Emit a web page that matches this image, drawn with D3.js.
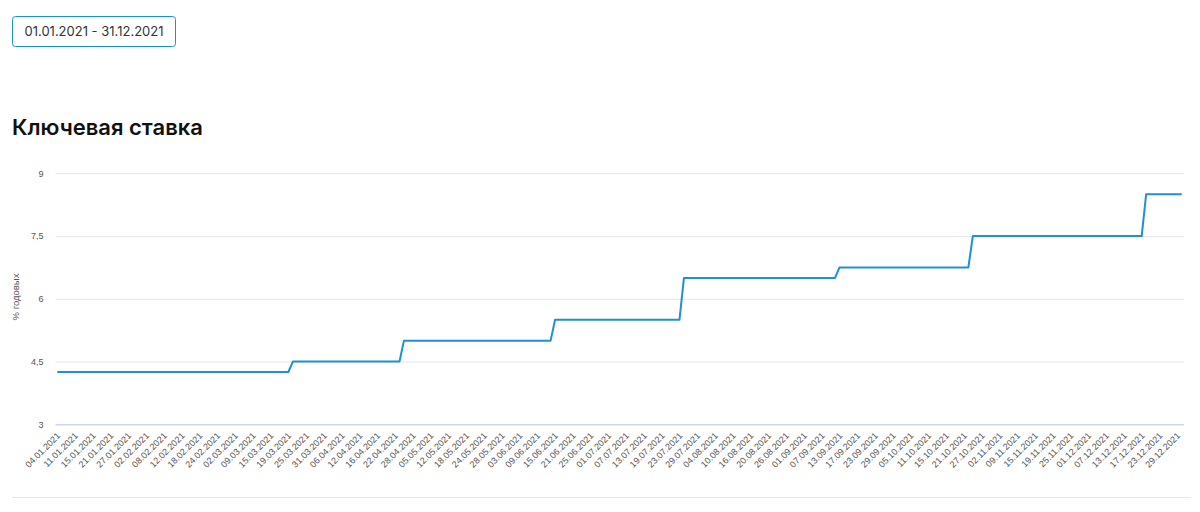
<!DOCTYPE html>
<html>
<head>
<meta charset="utf-8">
<script src="https://cdn.jsdelivr.net/npm/d3@7"></script>
<style>
  html, body { margin: 0; padding: 0; background: #fff; }
  svg { display: block; }
</style>
</head>
<body>
<svg id="chart" width="1200" height="512"></svg>
<script>
// ---- DATA ----
const periodLabel = "01.01.2021 - 31.12.2021";
const chartTitle = "Ключевая ставка";
const yAxisTitle = "% годовых";

const dates = [
  "04.01.2021","05.01.2021","06.01.2021","08.01.2021","11.01.2021","12.01.2021","13.01.2021","14.01.2021","15.01.2021","18.01.2021","19.01.2021","20.01.2021","21.01.2021","22.01.2021","25.01.2021","26.01.2021","27.01.2021","28.01.2021","29.01.2021",
  "01.02.2021","02.02.2021","03.02.2021","04.02.2021","05.02.2021","08.02.2021","09.02.2021","10.02.2021","11.02.2021","12.02.2021","15.02.2021","16.02.2021","17.02.2021","18.02.2021","19.02.2021","22.02.2021","23.02.2021","24.02.2021","25.02.2021","26.02.2021",
  "01.03.2021","02.03.2021","03.03.2021","04.03.2021","05.03.2021","09.03.2021","10.03.2021","11.03.2021","12.03.2021","15.03.2021","16.03.2021","17.03.2021","18.03.2021","19.03.2021","22.03.2021","23.03.2021","24.03.2021","25.03.2021","26.03.2021","29.03.2021","30.03.2021","31.03.2021",
  "01.04.2021","02.04.2021","05.04.2021","06.04.2021","07.04.2021","08.04.2021","09.04.2021","12.04.2021","13.04.2021","14.04.2021","15.04.2021","16.04.2021","19.04.2021","20.04.2021","21.04.2021","22.04.2021","23.04.2021","26.04.2021","27.04.2021","28.04.2021","29.04.2021","30.04.2021",
  "04.05.2021","05.05.2021","06.05.2021","07.05.2021","11.05.2021","12.05.2021","13.05.2021","14.05.2021","17.05.2021","18.05.2021","19.05.2021","20.05.2021","21.05.2021","24.05.2021","25.05.2021","26.05.2021","27.05.2021","28.05.2021","31.05.2021",
  "01.06.2021","02.06.2021","03.06.2021","04.06.2021","07.06.2021","08.06.2021","09.06.2021","10.06.2021","11.06.2021","14.06.2021","15.06.2021","16.06.2021","17.06.2021","18.06.2021","21.06.2021","22.06.2021","23.06.2021","24.06.2021","25.06.2021","28.06.2021","29.06.2021","30.06.2021",
  "01.07.2021","02.07.2021","05.07.2021","06.07.2021","07.07.2021","08.07.2021","09.07.2021","12.07.2021","13.07.2021","14.07.2021","15.07.2021","16.07.2021","19.07.2021","20.07.2021","21.07.2021","22.07.2021","23.07.2021","26.07.2021","27.07.2021","28.07.2021","29.07.2021","30.07.2021",
  "02.08.2021","03.08.2021","04.08.2021","05.08.2021","06.08.2021","09.08.2021","10.08.2021","11.08.2021","12.08.2021","13.08.2021","16.08.2021","17.08.2021","18.08.2021","19.08.2021","20.08.2021","23.08.2021","24.08.2021","25.08.2021","26.08.2021","27.08.2021","30.08.2021","31.08.2021",
  "01.09.2021","02.09.2021","03.09.2021","06.09.2021","07.09.2021","08.09.2021","09.09.2021","10.09.2021","13.09.2021","14.09.2021","15.09.2021","16.09.2021","17.09.2021","20.09.2021","21.09.2021","22.09.2021","23.09.2021","24.09.2021","27.09.2021","28.09.2021","29.09.2021","30.09.2021",
  "01.10.2021","04.10.2021","05.10.2021","06.10.2021","07.10.2021","08.10.2021","11.10.2021","12.10.2021","13.10.2021","14.10.2021","15.10.2021","18.10.2021","19.10.2021","20.10.2021","21.10.2021","22.10.2021","25.10.2021","26.10.2021","27.10.2021","28.10.2021","29.10.2021",
  "01.11.2021","02.11.2021","03.11.2021","05.11.2021","08.11.2021","09.11.2021","10.11.2021","11.11.2021","12.11.2021","15.11.2021","16.11.2021","17.11.2021","18.11.2021","19.11.2021","22.11.2021","23.11.2021","24.11.2021","25.11.2021","26.11.2021","29.11.2021","30.11.2021",
  "01.12.2021","02.12.2021","03.12.2021","06.12.2021","07.12.2021","08.12.2021","09.12.2021","10.12.2021","13.12.2021","14.12.2021","15.12.2021","16.12.2021","17.12.2021","20.12.2021","21.12.2021","22.12.2021","23.12.2021","24.12.2021","27.12.2021","28.12.2021","29.12.2021","30.12.2021"
];

const rates = [
  4.25,4.25,4.25,4.25,4.25,4.25,4.25,4.25,4.25,4.25,4.25,4.25,4.25,4.25,4.25,4.25,4.25,4.25,4.25,
  4.25,4.25,4.25,4.25,4.25,4.25,4.25,4.25,4.25,4.25,4.25,4.25,4.25,4.25,4.25,4.25,4.25,4.25,4.25,4.25,
  4.25,4.25,4.25,4.25,4.25,4.25,4.25,4.25,4.25,4.25,4.25,4.25,4.25,4.25,4.5,4.5,4.5,4.5,4.5,4.5,4.5,4.5,
  4.5,4.5,4.5,4.5,4.5,4.5,4.5,4.5,4.5,4.5,4.5,4.5,4.5,4.5,4.5,4.5,4.5,5,5,5,5,5,
  5,5,5,5,5,5,5,5,5,5,5,5,5,5,5,5,5,5,5,
  5,5,5,5,5,5,5,5,5,5,5.5,5.5,5.5,5.5,5.5,5.5,5.5,5.5,5.5,5.5,5.5,5.5,
  5.5,5.5,5.5,5.5,5.5,5.5,5.5,5.5,5.5,5.5,5.5,5.5,5.5,5.5,5.5,5.5,5.5,6.5,6.5,6.5,6.5,6.5,
  6.5,6.5,6.5,6.5,6.5,6.5,6.5,6.5,6.5,6.5,6.5,6.5,6.5,6.5,6.5,6.5,6.5,6.5,6.5,6.5,6.5,6.5,
  6.5,6.5,6.5,6.5,6.5,6.5,6.5,6.5,6.75,6.75,6.75,6.75,6.75,6.75,6.75,6.75,6.75,6.75,6.75,6.75,6.75,6.75,
  6.75,6.75,6.75,6.75,6.75,6.75,6.75,6.75,6.75,6.75,6.75,6.75,6.75,6.75,6.75,6.75,7.5,7.5,7.5,7.5,7.5,
  7.5,7.5,7.5,7.5,7.5,7.5,7.5,7.5,7.5,7.5,7.5,7.5,7.5,7.5,7.5,7.5,7.5,7.5,7.5,7.5,7.5,
  7.5,7.5,7.5,7.5,7.5,7.5,7.5,7.5,7.5,7.5,7.5,7.5,7.5,8.5,8.5,8.5,8.5,8.5,8.5,8.5,8.5,8.5
];

const xTickLabels = [
  "04.01.2021","11.01.2021","15.01.2021","21.01.2021","27.01.2021","02.02.2021","08.02.2021","12.02.2021","18.02.2021","24.02.2021",
  "02.03.2021","09.03.2021","15.03.2021","19.03.2021","25.03.2021","31.03.2021","06.04.2021","12.04.2021","16.04.2021","22.04.2021",
  "28.04.2021","05.05.2021","12.05.2021","18.05.2021","24.05.2021","28.05.2021","03.06.2021","09.06.2021","15.06.2021","21.06.2021",
  "25.06.2021","01.07.2021","07.07.2021","13.07.2021","19.07.2021","23.07.2021","29.07.2021","04.08.2021","10.08.2021","16.08.2021",
  "20.08.2021","26.08.2021","01.09.2021","07.09.2021","13.09.2021","17.09.2021","23.09.2021","29.09.2021","05.10.2021","11.10.2021",
  "15.10.2021","21.10.2021","27.10.2021","02.11.2021","09.11.2021","15.11.2021","19.11.2021","25.11.2021","01.12.2021","07.12.2021",
  "13.12.2021","17.12.2021","23.12.2021","29.12.2021"
];

const yTicks = [3, 4.5, 6, 7.5, 9];
const yTickLabels = ["3", "4,5", "6", "7,5", "9"];

// ---- DRAW ----
const svg = d3.select("#chart");
const font = "'Liberation Sans', Arial, sans-serif";

// period box
svg.append("rect")
  .attr("x", 12.5).attr("y", 16.5).attr("width", 163).attr("height", 30)
  .attr("rx", 3).attr("fill", "#fff").attr("stroke", "#1a8fd6").attr("stroke-width", 1);
svg.append("text")
  .attr("x", 94).attr("y", 36)
  .attr("text-anchor", "middle")
  .style("font-family", "Inter, 'Noto Sans', sans-serif")
  .style("font-size", "13px")
  .attr("fill", "#333")
  .text(periodLabel);

// title
svg.append("text")
  .attr("x", 12).attr("y", 134.5)
  .style("font-family", "Inter, 'Noto Sans', sans-serif")
  .style("font-size", "22px")
  .style("font-weight", 600)
  .attr("fill", "#111")
  .text(chartTitle);

const plotLeft = 55.5, plotRight = 1184;
const x = d3.scalePoint().domain(dates).range([57.3, 1181.7]);
const y = d3.scaleLinear().domain([3, 9]).range([424.3, 173.3]);

// y axis with gridlines
const yAxis = svg.append("g")
  .attr("transform", `translate(${plotLeft},0)`)
  .call(d3.axisLeft(y)
    .tickValues(yTicks)
    .tickSize(-(plotRight - plotLeft))
    .tickPadding(12)
    .tickFormat((d, i) => yTickLabels[i]));
yAxis.select(".domain").remove();
yAxis.selectAll(".tick line")
  .attr("stroke", d => d === 3 ? "#ccd6eb" : "#e6e6e6")
  .attr("stroke-width", d => d === 3 ? 1.5 : 1);
yAxis.selectAll(".tick text")
  .attr("fill", "#555")
  .style("font-family", font)
  .style("font-size", "9px");

// y axis title
svg.append("text")
  .attr("transform", "translate(18.5,297) rotate(-90)")
  .attr("text-anchor", "middle")
  .style("font-family", font)
  .style("font-size", "9.5px")
  .attr("fill", "#555")
  .text(yAxisTitle);

// x axis
const xAxis = svg.append("g")
  .attr("transform", "translate(0,424.3)")
  .call(d3.axisBottom(x).tickValues(xTickLabels).tickSize(0).tickPadding(0));
xAxis.select(".domain").remove();
xAxis.selectAll(".tick text")
  .attr("text-anchor", "end")
  .attr("dy", null)
  .attr("y", 0)
  .attr("transform", "translate(3,12) rotate(-45)")
  .attr("fill", "#555")
  .style("font-family", font)
  .style("font-size", "9px");

// line
const line = d3.line()
  .x((d, i) => x(dates[i]))
  .y(d => y(d));
svg.append("path")
  .datum(rates)
  .attr("fill", "none")
  .attr("stroke", "#1f8fd6")
  .attr("stroke-width", 2)
  .attr("stroke-linejoin", "round")
  .attr("d", line);

// bottom separator
svg.append("line")
  .attr("x1", 12).attr("x2", 1191)
  .attr("y1", 497.5).attr("y2", 497.5)
  .attr("stroke", "#e6e6e6");
</script>
</body>
</html>
